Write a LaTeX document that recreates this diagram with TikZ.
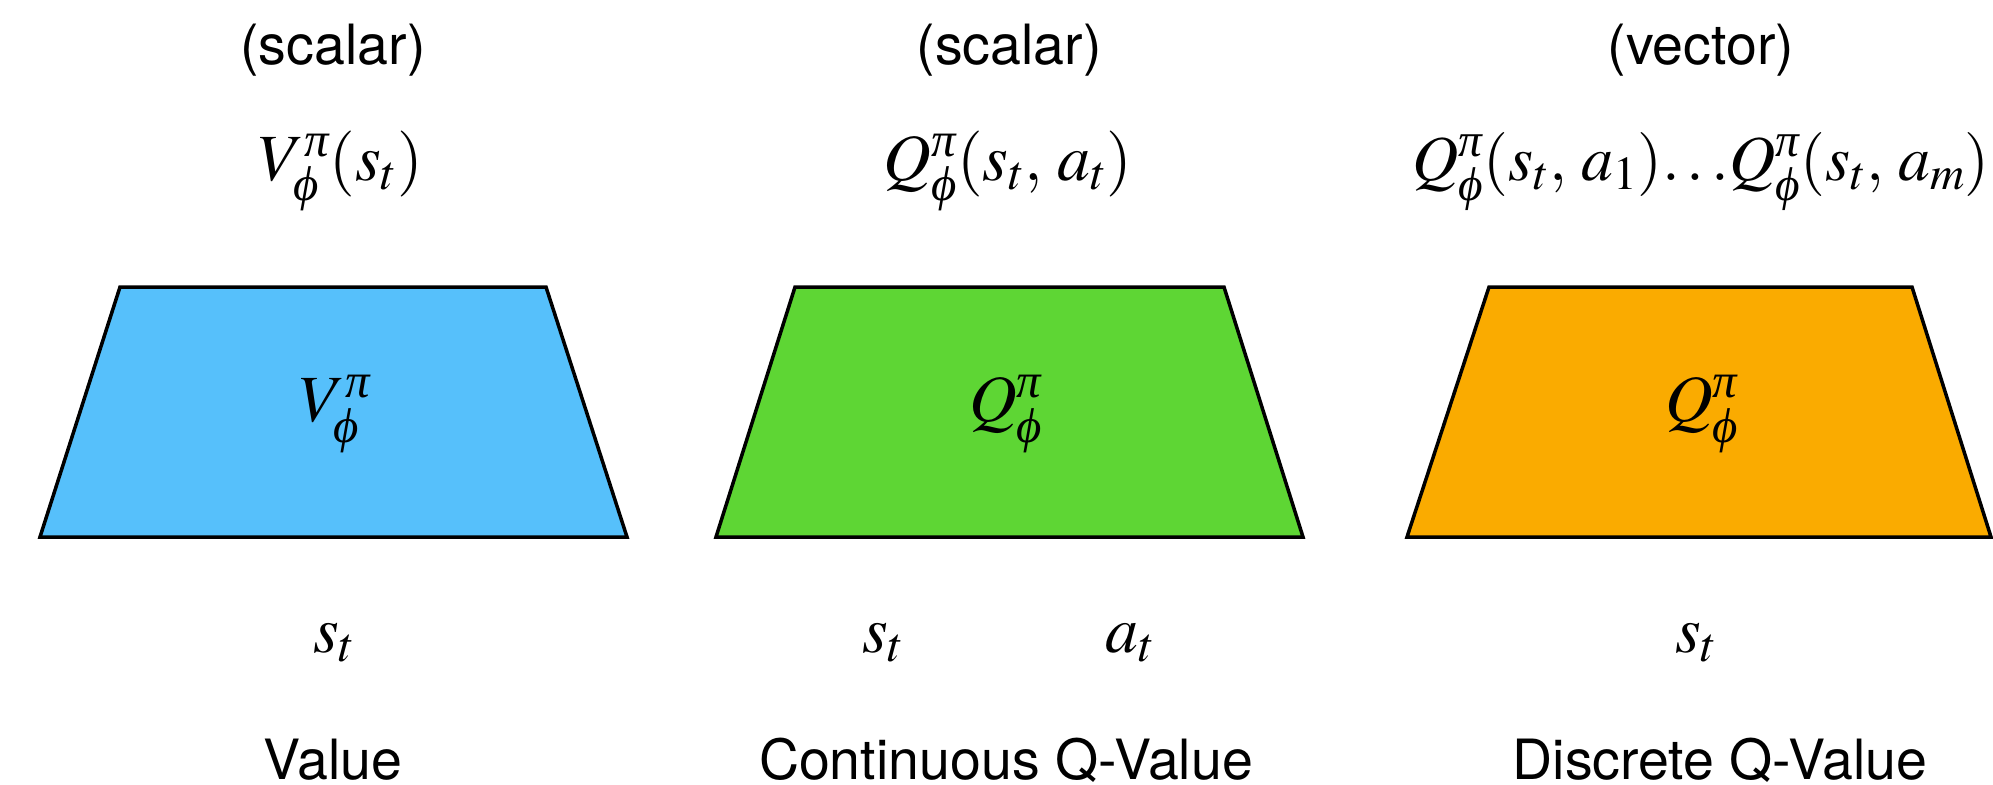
\documentclass[tikz,border=0pt]{standalone}
\usepackage[no-math]{fontspec}
\usepackage{mathptmx}
\usepackage{amsmath}
\newfontfamily\hel{TeX Gyre Heros}
\newfontfamily\grk{Liberation Serif}
\newcommand{\ipi}{\text{\grk\itshape π}}
\newcommand{\iphi}{\text{\grk\itshape ϕ}}
\newcommand{\sep}{,\mkern2mu}
\definecolor{vblue}{RGB}{86,192,251}
\definecolor{qgreen}{RGB}{94,214,52}
\definecolor{qorange}{RGB}{250,171,0}
\begin{document}
\begin{tikzpicture}[x=1pt,y=-1pt,
  trap/.style={draw=black,line width=3.5pt,line join=miter},
  lab/.style={font=\hel\fontsize{55.5}{60}\selectfont,anchor=base,inner sep=0pt},
  mth/.style={font=\fontsize{66}{72}\selectfont,anchor=base,inner sep=0pt},
  mthb/.style={font=\fontsize{64}{70}\selectfont,anchor=base,inner sep=0pt},
  mid/.style={font=\fontsize{66}{72}\selectfont,anchor=center,inner sep=0pt}]
\useasboundingbox (0,0) rectangle (1993,784);
% trapezoids
\coordinate (a1) at (40,537);  \coordinate (b1) at (627,537);
\coordinate (c1) at (546,287); \coordinate (d1) at (120,287);
\coordinate (a2) at (716,537); \coordinate (b2) at (1303,537);
\coordinate (c2) at (1224,287);\coordinate (d2) at (795,287);
\coordinate (a3) at (1407,537);\coordinate (b3) at (1991,537);
\coordinate (c3) at (1912,287);\coordinate (d3) at (1489,287);
\filldraw[trap,fill=vblue] (a1) -- (b1) -- (c1) -- (d1) -- cycle;
\filldraw[trap,fill=qgreen] (a2) -- (b2) -- (c2) -- (d2) -- cycle;
\filldraw[trap,fill=qorange] (a3) -- (b3) -- (c3) -- (d3) -- cycle;
% top labels
\node[lab] (k1) at (333,64) {(scalar)};
\node[lab] (k2) at (1009,64) {(scalar)};
\node[lab] (k3) at (1701,64) {(vector)};
\node[mth] (o1) at (341,180) {$V^{\ipi}_{\iphi}(s_t)$};
\node[mth] (o2) at (1008,180) {$Q^{\ipi}_{\iphi}(s_t\sep a_t)$};
\node[mthb] (o3) at (1701,180) {$Q^{\ipi}_{\iphi}(s_t\sep a_1)\mathord{\ldotp\ldotp\ldotp}Q^{\ipi}_{\iphi}(s_t\sep a_m)$};
% inside labels
\node[mid] (n1) at (335,414) {$V^{\ipi}_{\iphi}$};
\node[mid] (n2) at (1006,414) {$Q^{\ipi}_{\iphi}$};
\node[mid] (n3) at (1702,414) {$Q^{\ipi}_{\iphi}$};
% inputs
\node[mth] (i1) at (334,652) {$s_t$};
\node[mth] (i2) at (883,652) {$s_t$};
\node[mth] (i3) at (1130,652) {$a_t$};
\node[mth] (i4) at (1696,652) {$s_t$};
% bottom labels
\node[lab] (t1) at (333,779) {Value};
\node[lab] (t2) at (1006,779) {Continuous Q-Value};
\node[lab] (t3) at (1720,779) {Discrete Q-Value};
\end{tikzpicture}
\end{document}
